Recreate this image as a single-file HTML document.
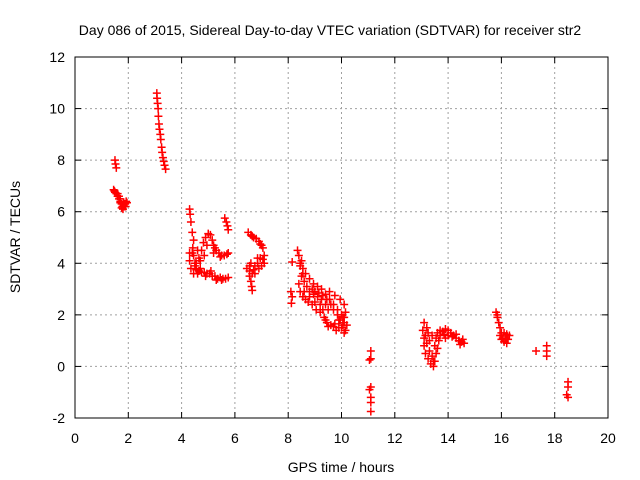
<!DOCTYPE html>
<html><head><meta charset="utf-8"><style>
body{margin:0;background:#fff;}
svg{display:block;font-family:"Liberation Sans",sans-serif;}
</style></head><body>
<svg id="chart" width="640" height="480" viewBox="0 0 640 480">
<text x="330" y="35" font-size="14" text-anchor="middle">Day 086 of 2015, Sidereal Day-to-day VTEC variation (SDTVAR) for receiver str2</text>
<text x="341" y="472" font-size="14" text-anchor="middle">GPS time / hours</text>
<text transform="translate(20,237) rotate(-90)" font-size="14" text-anchor="middle">SDTVAR / TECUs</text>
<g id="grid"></g><g id="ticks"></g><g id="marks"></g>
<rect x="75" y="57" width="533" height="361" fill="none" stroke="#000"/>
</svg>
<script>
const xTicks=[0,2,4,6,8,10,12,14,16,18,20];
const yTicks=[-2,0,2,4,6,8,10,12];
const xs=[1.5,1.52,1.55,1.45,1.48,1.5,1.55,1.6,1.65,1.7,1.75,1.78,1.8,1.85,1.88,1.92,1.95,1.83,1.7,
3.07,3.08,3.1,3.12,3.13,3.15,3.17,3.2,3.22,3.25,3.27,3.3,3.33,3.36,3.4,
4.3,4.32,4.35,4.4,4.45,4.42,4.45,4.5,4.3,4.3,4.35,4.45,4.55,4.65,4.75,4.85,4.95,5.05,5.15,5.25,5.35,5.45,5.55,5.65,5.75,4.55,4.65,4.75,4.82,4.9,5.0,5.08,5.15,5.2,5.3,5.4,5.5,5.6,5.7,5.75,4.6,5.62,5.68,5.72,5.75,
6.5,6.6,6.7,6.8,6.9,7.0,7.05,6.45,6.55,6.65,6.7,6.75,6.85,6.95,7.05,7.1,6.6,6.63,6.65,6.6,6.9,
8.15,8.1,8.15,8.12,8.35,8.4,8.45,8.55,8.65,8.8,8.95,9.1,9.25,9.4,9.55,9.7,9.85,10.0,10.1,10.15,8.4,8.45,8.55,8.65,8.8,8.95,9.1,9.25,9.4,9.3,9.35,9.45,9.6,9.75,9.9,10.05,10.15,10.1,9.95,9.75,9.55,9.0,8.8,9.2,9.5,9.8,10.0,
11.1,11.1,11.05,11.1,11.05,11.1,11.1,11.1,
13.1,13.05,13.1,13.1,13.15,13.25,13.35,13.45,13.5,13.55,13.5,13.55,13.6,13.7,13.8,13.9,14.0,14.1,14.2,14.3,14.4,14.5,14.6,13.3,13.25,13.65,
15.8,15.85,15.9,15.95,16.0,16.05,16.1,16.2,16.25,16.3,16.1,
17.3,17.7,17.7,17.7,18.5,18.5,18.45,18.5,
8.5,8.6,8.7,8.9,9.0,9.15,9.3,9.45,9.6,9.7,9.85,9.95,10.05,8.6,8.75,8.9,9.05,9.2,9.4,9.5,9.7,9.9,10.1,8.45,8.5,8.55,10.1,10.2,
13.2,13.2,13.3,13.4,13.45,13.6,13.7,13.85,14.0,14.15,14.3,14.45,14.55,13.15,13.4,13.9,
4.4,4.5,4.6,4.7,4.9,5.1,5.3,5.5,4.85,4.95,5.25,5.45,5.2,4.7,
6.55,6.75,6.85,7.0,6.65,6.95,7.1,6.55,
1.6,1.7,1.75,1.9,1.65,
15.85,16.0,16.15,16.2,15.95];
const ys=[8.0,7.85,7.7,6.85,6.8,6.75,6.7,6.6,6.5,6.4,6.3,6.2,6.1,6.2,6.3,6.4,6.35,6.35,6.5,
10.6,10.4,10.2,10.0,9.7,9.4,9.2,9.0,8.8,8.5,8.3,8.1,7.95,7.8,7.65,
6.1,5.9,5.6,5.2,4.9,4.6,4.3,4.0,4.4,4.1,3.8,3.6,3.75,3.7,3.65,3.65,3.6,3.6,3.5,3.5,3.4,3.45,3.4,3.4,3.45,4.0,4.2,4.5,4.8,5.0,5.15,5.1,4.9,4.7,4.5,4.4,4.3,4.3,4.35,4.4,4.5,5.75,5.6,5.45,5.3,
5.2,5.1,5.0,4.95,4.85,4.7,4.6,3.8,3.7,3.6,3.75,3.9,4.0,4.2,4.15,4.0,3.3,3.1,2.95,4.0,3.8,
4.05,2.9,2.7,2.45,4.5,4.3,4.0,3.8,3.6,3.4,3.2,3.1,3.0,2.8,2.6,2.4,2.2,2.0,1.7,1.4,3.2,2.9,2.7,2.6,2.7,2.8,2.7,2.6,2.4,2.2,1.9,1.7,1.6,1.65,1.8,1.9,2.1,2.4,2.6,2.75,2.9,2.5,2.9,2.4,2.2,1.4,1.5,
0.6,0.3,0.25,-0.8,-0.9,-1.2,-1.4,-1.75,
1.7,1.4,1.1,0.8,0.5,0.3,0.1,0.0,0.2,0.5,0.8,1.1,1.3,1.4,1.35,1.45,1.4,1.3,1.2,1.1,1.0,0.95,0.9,1.0,1.3,1.0,
2.1,1.9,1.7,1.5,1.3,1.1,0.95,0.9,1.05,1.2,1.3,
0.6,0.8,0.6,0.4,-0.6,-0.8,-1.1,-1.2,
3.5,3.3,3.1,3.0,2.9,2.85,2.75,2.6,2.4,2.2,2.0,1.8,1.6,2.9,2.5,2.4,2.2,2.1,1.8,1.55,1.55,1.5,1.3,3.9,4.1,3.6,1.9,1.6,
1.5,0.9,0.6,0.4,0.2,0.7,1.2,1.25,1.2,1.15,1.25,0.85,1.05,1.2,1.2,1.1,
4.4,3.9,3.6,3.8,3.5,3.7,3.35,3.35,4.3,4.7,4.6,4.25,4.4,4.1,
3.9,3.6,4.2,3.9,5.05,4.75,4.3,3.5,
6.7,6.35,6.15,6.2,6.6,
2.0,1.05,1.1,1.25,1.2];
const X0=75,X1=608,Y0=418,Y1=57;
function xp(v){return X0+(v-0)/(20-0)*(X1-X0);}
function yp(v){return Y0-(v+2)/(12+2)*(Y0-Y1);}
const NS='http://www.w3.org/2000/svg';
function mk(t,a,p){const e=document.createElementNS(NS,t);for(const k in a)e.setAttribute(k,a[k]);p.appendChild(e);return e;}
const grid=document.getElementById('grid'),ticks=document.getElementById('ticks'),marks=document.getElementById('marks');
xTicks.forEach(v=>{const x=xp(v);
 if(v>0&&v<20){const g=mk('line',{x1:x,x2:x,y1:Y1,y2:Y0,stroke:'#a0a0a0','stroke-dasharray':'2,3'},grid);
 
 }
 mk('line',{x1:x,x2:x,y1:Y0,y2:Y0-6,stroke:'#000'},ticks);
 mk('line',{x1:x,x2:x,y1:Y1,y2:Y1+6,stroke:'#000'},ticks);
 const t=mk('text',{x:x,y:Y0+25,'font-size':14,'text-anchor':'middle'},ticks);t.textContent=v;
 
 });
yTicks.forEach(v=>{const y=yp(v);
 if(v>-2&&v<12){const g=mk('line',{x1:X0,x2:X1,y1:y,y2:y,stroke:'#a0a0a0','stroke-dasharray':'2,3'},grid);
 
 }
 mk('line',{x1:X0,x2:X0+6,y1:y,y2:y,stroke:'#000'},ticks);
 mk('line',{x1:X1,x2:X1-6,y1:y,y2:y,stroke:'#000'},ticks);
 const t=mk('text',{x:X0-10,y:y+5,'font-size':14,'text-anchor':'end'},ticks);t.textContent=v;
 
 });
xs.forEach((v,i)=>{const x=xp(v),y=yp(ys[i]);
 const p=mk('path',{d:`M${x-4},${y}H${x+4}M${x},${y-4}V${y+4}`,stroke:'#ff0000','stroke-width':1.5,fill:'none'},marks);
 
 });
</script>
</body></html>
